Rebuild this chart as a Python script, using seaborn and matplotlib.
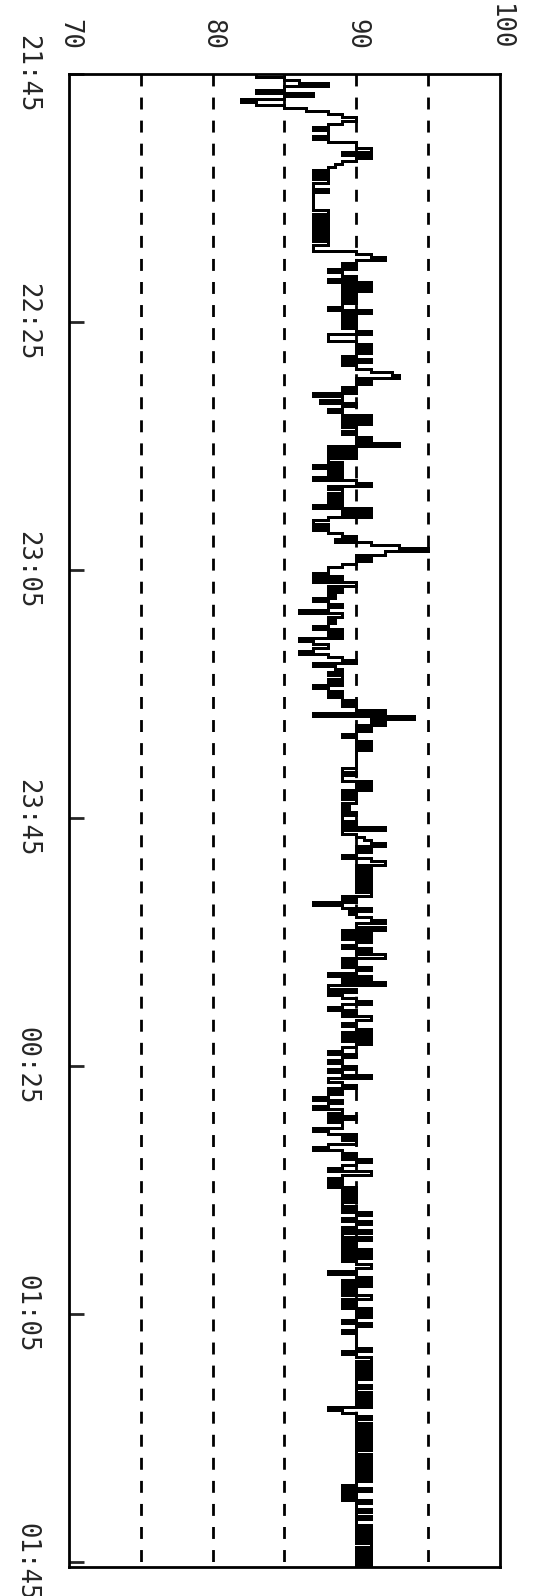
import numpy as np
import pandas as pd
import seaborn as sns
import matplotlib
matplotlib.use("Agg")
import matplotlib.pyplot as plt

# samples every 30 s, one list per 40 minute block starting 21:45
block_0 = [83, 85, 86, 88, 85, 83, 87, 85, 82, 83,
           85, 86.5, 88, 89, 90, 89, 88, 87, 88, 88,
           87, 88, 90, 90, 91, 89, 91, 90, 89, 88.5,
           88, 87, 88, 87, 88, 87, 87, 88, 87, 87,
           87, 87, 87, 87, 88, 87, 88, 87, 88, 87,
           88, 87, 88, 87, 88, 87, 87, 90, 91, 92,
           90, 89, 90, 88, 89, 90, 88, 91, 89, 91,
           89, 90, 89, 90, 89, 88, 91, 89, 90, 89]
block_1 = [90, 89, 90, 91, 88, 88, 90, 91, 90, 91,
           90, 89, 91, 89, 90, 91, 92.5, 93, 90, 91,
           90, 89, 90, 87, 89, 87.5, 90, 89, 88, 89,
           91, 89, 91, 89, 90, 89, 90, 91, 90, 93,
           88, 90, 88, 90, 88, 89, 87, 89, 88, 89,
           87, 90, 91, 88, 89, 88, 89, 88, 89, 87,
           91, 89, 91, 88, 87, 88, 87, 88, 89, 90,
           88.5, 91, 93, 95, 92, 90, 91, 90, 89, 88]
block_2 = [88, 87, 89, 87, 90, 88, 89, 88, 88.5, 87,
           88, 89, 88, 86, 89, 88, 88.5, 88, 87, 89,
           88, 89, 86, 87, 88, 87, 86, 88, 89, 90,
           87, 88.5, 89, 88, 89, 88, 89, 87, 88, 89,
           88, 89, 90, 89, 90, 92, 87, 94, 91, 92,
           90, 91, 90, 89, 90, 91, 90, 91, 90, 90,
           90, 90, 90, 90, 89, 90, 89, 89, 91, 90,
           91, 89, 90, 89, 90, 89, 89.5, 89, 90, 89]
block_3 = [89, 90, 89, 92, 89, 90, 90.5, 91, 92, 90,
           91, 90, 89, 91, 92, 90, 91, 90, 91, 90,
           91, 90, 91, 90, 91, 89, 90, 87, 89, 91,
           89.5, 90, 91, 92, 90, 92, 89, 91, 89, 91,
           90, 89, 91, 90, 92, 89, 90, 89, 91, 90,
           88, 91, 89, 92, 88, 90, 88, 89, 90, 91,
           89, 88, 90, 89, 91, 90, 89, 90, 91, 89,
           91, 89, 91, 90, 89, 88, 90, 89, 88, 89]
block_4 = [90, 88, 89, 91, 88, 89, 90, 88, 89, 88,
           87, 89, 88, 87, 89, 88, 90, 88, 89, 89,
           87, 88, 90, 89, 90, 88, 87, 89, 90, 89,
           91, 90, 89, 88, 91, 89, 88, 89, 88, 90,
           89, 90, 89, 90, 89, 90, 89, 91, 90, 89,
           91, 90, 89, 91, 89, 91, 89, 90, 89, 91,
           89, 91, 89, 90, 91, 90, 88, 90, 91, 89,
           91, 89, 90, 89, 91, 89, 90, 89, 91, 90]
block_5 = [91, 90, 89, 91, 90, 89, 90, 90, 90, 90,
           90, 91, 89, 90, 91, 90, 91, 90, 91, 90,
           91, 90, 90, 91, 90, 91, 90, 91, 90, 91,
           88, 89, 90, 91, 90, 91, 90, 91, 90, 91,
           90, 91, 90, 91, 90, 91, 90, 91, 90, 91,
           90, 91, 90, 91, 90, 89, 91, 89, 90, 89,
           91, 90, 90, 91, 90, 91, 90, 90, 91, 90,
           91, 90, 91, 90, 91, 90, 91, 90, 91, 90,
           91, 90]

time_ticks = [0, 40, 80, 120, 160, 200, 240]
time_labels = ["21:45", "22:25", "23:05", "23:45", "00:25", "01:05", "01:45"]
value_ticks = [70, 80, 90, 100]
grid_levels = [75, 80, 85, 90, 95]

blocks = [block_0, block_1, block_2, block_3, block_4, block_5]
frames = []
for k, vals in enumerate(blocks):
    frames.append(pd.DataFrame({"minute": 40 * k + 0.5 * np.arange(len(vals)),
                                "value": vals}))
df = pd.concat(frames, ignore_index=True)

sns.set_style("white")
plt.rcParams["font.family"] = ["DejaVu Sans Mono", "DejaVu Sans"]

t_end = 240.8
fig = plt.figure(figsize=(5.42, 15.96), dpi=100)
ax = fig.add_axes([69 / 542, 1 - 1567 / 1596, 431 / 542, 1493 / 1596])

for v in grid_levels:
    ax.plot([v, v], [0, t_end], color="black", lw=2, dashes=(4.3, 4), zorder=1)

sns.lineplot(data=df, x="value", y="minute", orient="y", estimator=None,
             drawstyle="steps-pre", color="black", linewidth=1.9,
             antialiased=False, ax=ax, zorder=3)

ax.set_xlim(70, 100)
ax.set_ylim(t_end, 0)
ax.set_xlabel("")
ax.set_ylabel("")

ax.set_xticks(value_ticks)
ax.set_xticklabels([str(v) for v in value_ticks])
ax.xaxis.tick_top()
ax.tick_params(axis="x", length=0, pad=17, labelrotation=-90, labelsize=18.5)

ax.set_yticks(time_ticks)
ax.set_yticklabels(time_labels)
ax.tick_params(axis="y", left=True, direction="in", length=11, width=2,
               pad=21, labelrotation=-90, labelsize=18.5)
for lab in ax.get_yticklabels():
    lab.set_va("center")

for s in ax.spines.values():
    s.set_color("black")
    s.set_linewidth(2)

fig.savefig("out.png", dpi=100)
